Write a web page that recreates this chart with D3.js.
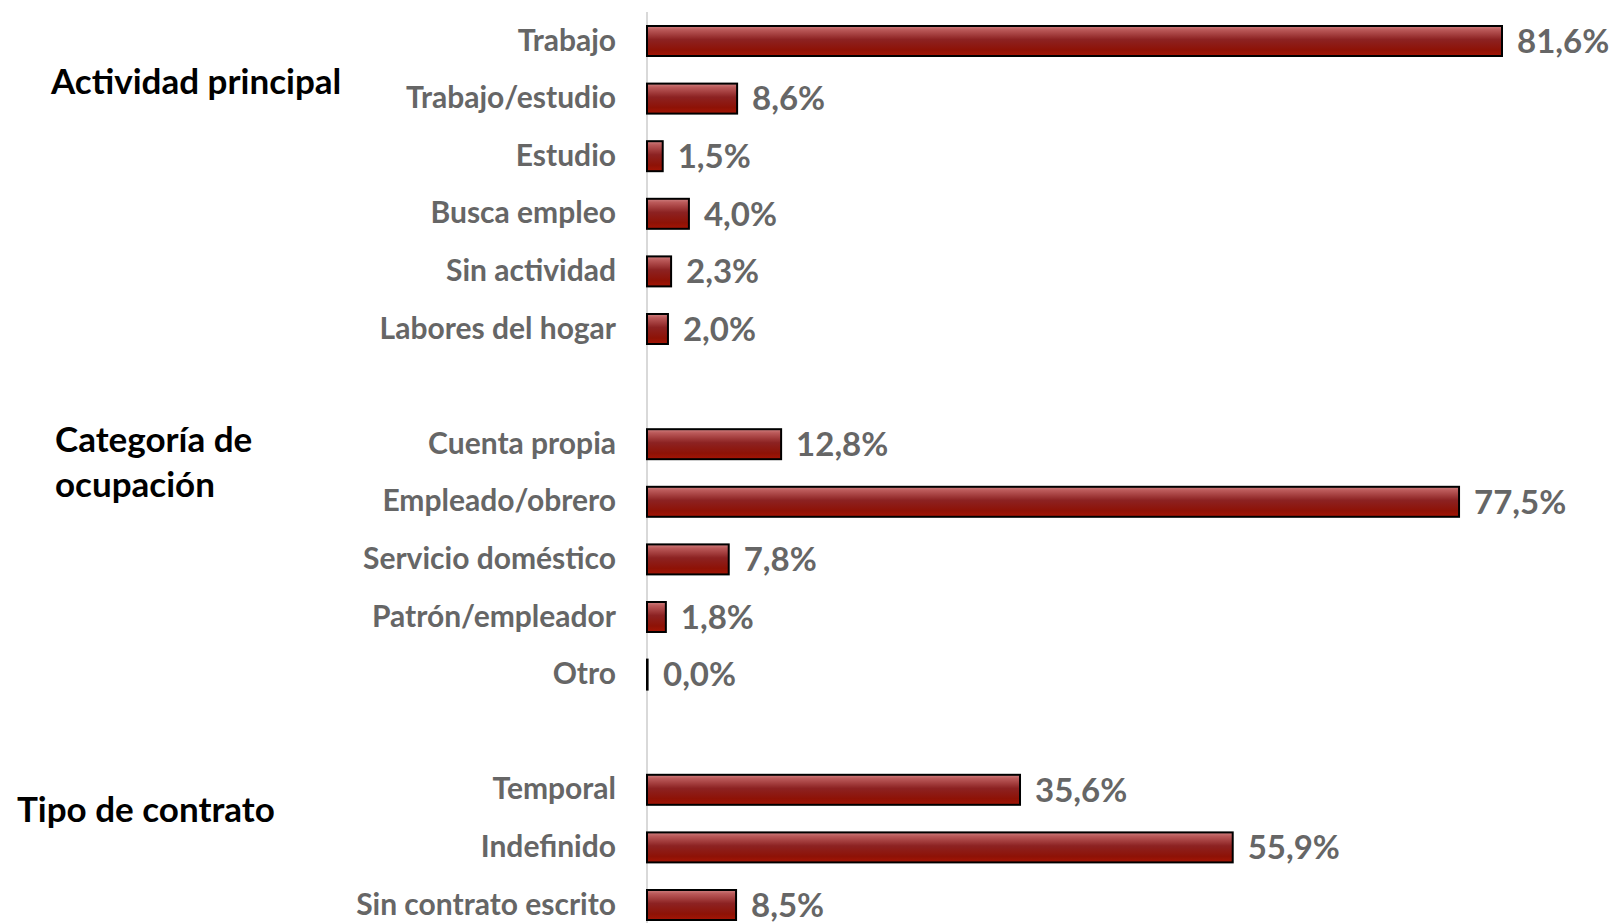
<!DOCTYPE html>
<html><head><meta charset="utf-8">
<script src="https://cdn.jsdelivr.net/npm/d3@7"></script>
<style>body{margin:0;background:#fff}svg{display:block}</style>
</head><body>
<svg id="c" width="1614" height="923"></svg>
<script>
const groups = ["Actividad principal", "Categoría de ocupación", "Tipo de contrato"];
const categories = ["Trabajo","Trabajo/estudio","Estudio","Busca empleo","Sin actividad","Labores del hogar",
  "Cuenta propia","Empleado/obrero","Servicio doméstico","Patrón/empleador","Otro",
  "Temporal","Indefinido","Sin contrato escrito"];
const categoryGroup = [0,0,0,0,0,0,1,1,1,1,1,2,2,2];
const values = [81.6,8.6,1.5,4.0,2.3,2.0,12.8,77.5,7.8,1.8,0.0,35.6,55.9,8.5];
const groupLabelLines = [["Actividad principal"],["Categoría de","ocupación"],["Tipo de contrato"]];

// slots: categories with a blank slot between groups
const slots = [];
categories.forEach((c,i)=>{
  if(i>0 && categoryGroup[i]!==categoryGroup[i-1]) slots.push("__gap"+i);
  slots.push(c);
});

const svg = d3.select("#c");
const y = d3.scalePoint().domain(slots).range([41,905]);
const x = d3.scaleLinear().domain([0,81.6]).range([647,1502]);
const barH = 30;
const font = "Lato, 'Open Sans', sans-serif";

const defs = svg.append("defs");
const g = defs.append("linearGradient").attr("id","bg").attr("x1",0).attr("y1",0).attr("x2",0).attr("y2",1);
[[0,"#d08282"],[0.12,"#bb5a5a"],[0.45,"#8c2222"],[0.8,"#8e1206"],[1,"#a51505"]].forEach(s=>
  g.append("stop").attr("offset",s[0]).attr("stop-color",s[1]));

// axis line
svg.append("line").attr("x1",x(0)).attr("x2",x(0)).attr("y1",12).attr("y2",923)
  .attr("stroke","#d9d9d9").attr("stroke-width",2);

const data = categories.map((c,i)=>({c,v:values[i]}));

svg.selectAll("rect.bar").data(data).join("rect").attr("class","bar")
  .attr("x",x(0)).attr("y",d=>y(d.c)-barH/2)
  .attr("width",d=>Math.max(x(d.v)-x(0),0.6)).attr("height",barH)
  .attr("fill","url(#bg)").attr("stroke","#000").attr("stroke-width",2);

// category labels
svg.selectAll("text.cat").data(data).join("text").attr("class","cat")
  .attr("x",616).attr("y",d=>y(d.c)-1).attr("dy","0.35em")
  .attr("text-anchor","end").attr("font-family",font).attr("font-weight",700)
  .attr("font-size",30).attr("fill","#666").text(d=>d.c);

// value labels
svg.selectAll("text.val").data(data).join("text").attr("class","val")
  .attr("x",d=>Math.max(x(d.v),x(0)+1)+15).attr("y",d=>y(d.c)).attr("dy","0.36em")
  .attr("font-family",font).attr("font-weight",700)
  .attr("font-size",33).attr("fill","#666")
  .text(d=>d3.format(".1f")(d.v).replace(".",",")+"%");

// group labels
const groupPos = [{x:51,y:82},{x:55,y:440},{x:17,y:810}];
groupLabelLines.forEach((lines,gi)=>{
  const t = svg.append("text").attr("font-family",font).attr("font-weight",700)
    .attr("font-size",35).attr("fill","#000");
  lines.forEach((l,li)=>t.append("tspan").attr("x",groupPos[gi].x)
    .attr("y",groupPos[gi].y+li*45).attr("dy","0.35em").text(l));
});
</script>
</body></html>
